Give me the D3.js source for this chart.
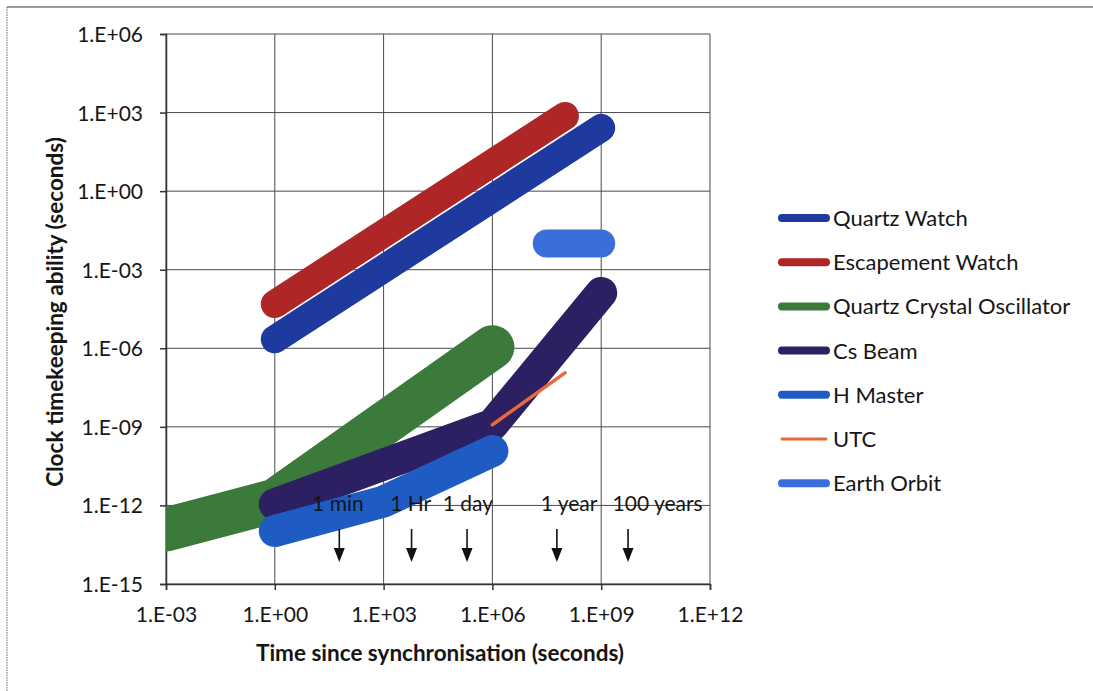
<!DOCTYPE html>
<html>
<head>
<meta charset="utf-8">
<script src="https://cdn.jsdelivr.net/npm/d3@7"></script>
<style>
  html, body { margin: 0; padding: 0; background: #fff; }
  svg { display: block; }
  text { font-family: Lato, "Open Sans", sans-serif; fill: #161616; }
</style>
</head>
<body>
<svg id="chart" width="1093" height="691"></svg>
<script>
// ---- data: time since synchronisation (s) vs timekeeping ability (s) ----
const seriesNames = ["Quartz Watch", "Escapement Watch", "Quartz Crystal Oscillator",
                     "Cs Beam", "H Master", "UTC", "Earth Orbit"];

const quartzWatch             = [[1, 2.2e-6], [1e9, 260]];
const escapementWatch         = [[1, 4.9e-5], [1e8, 740]];
const quartzCrystalOscillator = [[1e-3, 1.2e-13], [1, 1.5e-12], [1e6, 1.1e-6]];
const csBeam                  = [[1, 1.1e-12], [1e6, 1.2e-9], [1e9, 1.3e-4]];
const hMaster                 = [[1, 1.05e-13], [1e3, 1.4e-12], [1e6, 1.2e-10]];
const utc                     = [[1e6, 1.2e-9], [1e8, 1.15e-7]];
const earthOrbit              = [[3.15e7, 1e-2], [1e9, 1e-2]];

const xTicks = [1e-3, 1e0, 1e3, 1e6, 1e9, 1e12];
const yTicks = [1e-15, 1e-12, 1e-9, 1e-6, 1e-3, 1e0, 1e3, 1e6];

// time markers: label text, arrow position and label centre on the time axis (s)
const markerLabels  = ["1 min", "1 Hr", "1 day", "1 year", "100 years"];
const markerArrowAt = [60, 5.9e3, 2.0e5, 6.0e7, 5.5e9];
const markerLabelAt = [55, 5.6e3, 2.1e5, 1.3e8, 3.6e10];

// ---- styling ----
const seriesData   = [quartzWatch, escapementWatch, quartzCrystalOscillator, csBeam, hMaster, utc, earthOrbit];
const seriesColors = ["#1f3a9e", "#ae2626", "#3c7a3b", "#2c1f62", "#1e5cc4", "#e8693a", "#3a6fd9"];
const seriesWidths = [28, 28, 44, 32, 32, 3.5, 28];
const legendWidths = [8, 8, 8, 8, 8, 3, 8];

const svg = d3.select("#chart");
const plot = { left: 166, right: 710, top: 34, bottom: 584 };

const x = d3.scaleLog().domain([1e-3, 1e12]).range([plot.left, plot.right]);
const y = d3.scaleLog().domain([1e-15, 1e6]).range([plot.bottom, plot.top]);

const fmtExp = v => {
  const e = Math.round(Math.log10(v));
  return "1.E" + (e < 0 ? "-" : "+") + String(Math.abs(e)).padStart(2, "0");
};

// outer frame (top and left edges)
svg.append("line").attr("x1", 7).attr("x2", 1093).attr("y1", 7).attr("y2", 7)
  .attr("stroke", "#7a7a7a").attr("stroke-width", 1.5);
svg.append("line").attr("x1", 7).attr("x2", 7).attr("y1", 7).attr("y2", 691)
  .attr("stroke", "#9a9a9a").attr("stroke-width", 1.5).attr("stroke-dasharray", "1.5,1");

// gridlines
const grid = svg.append("g").attr("stroke", "#4a4a4a").attr("stroke-width", 1);
grid.selectAll("line.v").data(xTicks).join("line")
  .attr("x1", d => x(d)).attr("x2", d => x(d))
  .attr("y1", plot.top).attr("y2", plot.bottom);
grid.selectAll("line.h").data(yTicks).join("line")
  .attr("x1", plot.left).attr("x2", plot.right)
  .attr("y1", d => y(d)).attr("y2", d => y(d));

// axes
const xAxis = d3.axisBottom(x).tickValues(xTicks).tickFormat(fmtExp).tickSize(6).tickPadding(17);
const yAxis = d3.axisLeft(y).tickValues(yTicks).tickFormat(fmtExp).tickSize(6).tickPadding(17);

const gx = svg.append("g").attr("transform", `translate(0,${plot.bottom})`).call(xAxis);
const gy = svg.append("g").attr("transform", `translate(${plot.left},0)`).call(yAxis);
[gx, gy].forEach(g => {
  g.select(".domain").attr("stroke", "#333").attr("stroke-width", 1.5);
  g.selectAll(".tick line").attr("stroke", "#333").attr("stroke-width", 1.5);
  g.selectAll(".tick text").attr("font-size", 21).attr("fill", "#161616")
    .style("font-family", "Lato, sans-serif");
});
gy.selectAll(".tick text").attr("dy", "0.36em");

// axis titles
svg.append("text").attr("x", 440).attr("y", 661).attr("text-anchor", "middle")
  .attr("font-size", 22.5).attr("font-weight", "bold").text("Time since synchronisation (seconds)");
svg.append("text").attr("transform", "translate(63,312) rotate(-90)").attr("text-anchor", "middle")
  .attr("font-size", 22.5).attr("font-weight", "bold").text("Clock timekeeping ability (seconds)");

// series
svg.append("clipPath").attr("id", "plotClip").append("rect")
  .attr("x", plot.left).attr("y", plot.top)
  .attr("width", plot.right - plot.left).attr("height", plot.bottom - plot.top);

const line = d3.line().x(d => x(d[0])).y(d => y(d[1]));
const gSeries = svg.append("g").attr("clip-path", "url(#plotClip)");
seriesData.forEach((data, i) => {
  gSeries.append("path").attr("d", line(data))
    .attr("fill", "none").attr("stroke", seriesColors[i])
    .attr("stroke-width", seriesWidths[i])
    .attr("stroke-linecap", "round").attr("stroke-linejoin", "round");
});

// time markers
const gMark = svg.append("g");
markerLabels.forEach((label, i) => {
  const ax = x(markerArrowAt[i]);
  gMark.append("text").attr("x", x(markerLabelAt[i])).attr("y", 511)
    .attr("text-anchor", "middle").attr("font-size", 21).text(label);
  gMark.append("line").attr("x1", ax).attr("x2", ax).attr("y1", 529).attr("y2", 550)
    .attr("stroke", "#111").attr("stroke-width", 1.6);
  gMark.append("path")
    .attr("d", `M${ax - 5.5},${548} L${ax + 5.5},${548} L${ax},${562} Z`)
    .attr("fill", "#111");
});

// legend
const legend = svg.append("g");
seriesNames.forEach((name, i) => {
  const ly = 218 + i * 44.2;
  legend.append("line").attr("x1", 782).attr("x2", 826).attr("y1", ly).attr("y2", ly)
    .attr("stroke", seriesColors[i]).attr("stroke-width", legendWidths[i])
    .attr("stroke-linecap", "round");
  legend.append("text").attr("x", 833).attr("y", ly).attr("dy", "0.36em")
    .attr("font-size", 22).text(name);
});
</script>
</body>
</html>
